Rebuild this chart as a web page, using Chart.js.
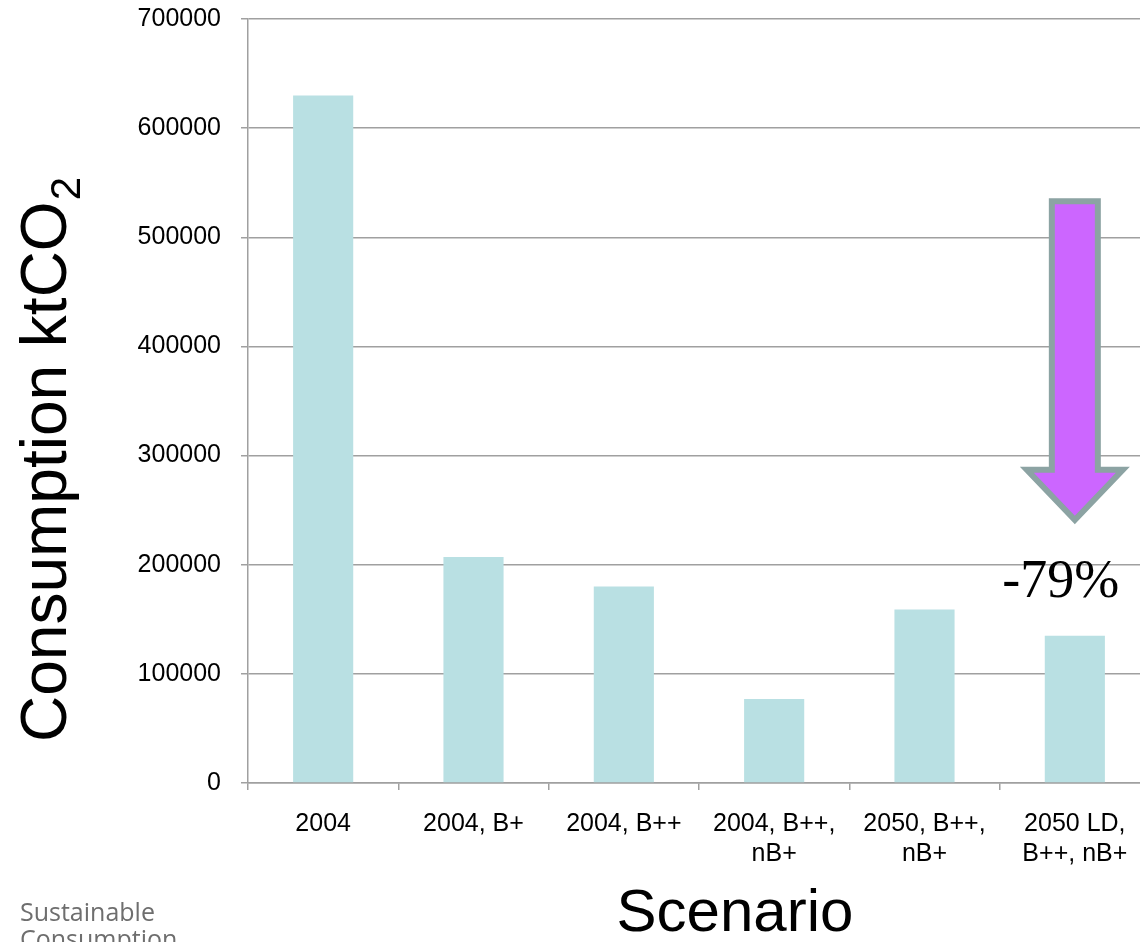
<!DOCTYPE html>
<html>
<head>
  <title>Consumption ktCO2 by scenario</title>
  <script src="https://cdn.jsdelivr.net/npm/chart.js"></script>
  <style>
    html, body { margin: 0; padding: 0; overflow: hidden; background: #fff; }
    #wrap { width: 1152px; height: 942px; position: relative; }
  </style>
</head>
<body>
  <div id="wrap"><canvas id="co2Chart"></canvas></div>
  <script>
    const scenarios = [['2004'], ['2004, B+'], ['2004, B++'], ['2004, B++,', 'nB+'], ['2050, B++,', 'nB+'], ['2050 LD,', 'B++, nB+']];
    const consumption = [630000, 207000, 180000, 77000, 159000, 135000];
    const yTicks = [0, 100000, 200000, 300000, 400000, 500000, 600000, 700000];
    // arrow from ~535k down to ~240k over the last bar
    const arrowFrom = 533000, arrowHead = 287000, arrowTo = 241000;
    const reduction = '-79%';

    const gridGray = '#a0a0a0';

    const extras = {
      id: 'extras',
      afterDraw(chart) {
        const c = chart.ctx, x = chart.scales.x, y = chart.scales.y, area = chart.chartArea;
        c.save();

        // the big arrow
        const cx = x.getPixelForValue(5);
        const top = y.getPixelForValue(arrowFrom), base = y.getPixelForValue(arrowHead), tip = y.getPixelForValue(arrowTo);
        c.beginPath();
        c.moveTo(cx - 23, top);
        c.lineTo(cx + 23, top);
        c.lineTo(cx + 23, base);
        c.lineTo(cx + 48, base);
        c.lineTo(cx, tip);
        c.lineTo(cx - 48, base);
        c.lineTo(cx - 23, base);
        c.closePath();
        c.fillStyle = '#cc66ff';
        c.fill();
        c.lineWidth = 6;
        c.lineJoin = 'miter';
        c.strokeStyle = '#8ca3a3';
        c.stroke();

        c.fillStyle = '#000';
        c.font = '54px "Liberation Serif", "Times New Roman", serif';
        c.textAlign = 'center';
        c.textBaseline = 'alphabetic';
        c.fillText(reduction, cx - 14, y.getPixelForValue(170000));

        // x title
        c.font = '60px "Liberation Sans", Arial, sans-serif';
        c.fillText('Scenario', 735, 931);

        // y title with subscript
        c.translate(66, area.bottom - 41);
        c.rotate(-Math.PI / 2);
        c.textAlign = 'left';
        c.font = '64px "Liberation Sans", Arial, sans-serif';
        const main = 'Consumption ktCO';
        c.fillText(main, 0, 0);
        const w = c.measureText(main).width;
        c.font = '42px "Liberation Sans", Arial, sans-serif';
        c.fillText('2', w + 1, 14);
        c.restore();

        // footer logo text
        c.save();
        c.fillStyle = '#6e6e6e';
        c.font = '25px "Open Sans", "Noto Sans", sans-serif';
        c.textAlign = 'left';
        c.fillText('Sustainable', 20, 921);
        c.fillText('Consumption', 20, 948);
        c.restore();
      }
    };

    new Chart(document.getElementById('co2Chart'), {
      type: 'bar',
      data: {
        labels: scenarios,
        datasets: [{
          data: consumption,
          backgroundColor: '#b9e0e3',
          barPercentage: 0.4,
          categoryPercentage: 1.0
        }]
      },
      options: {
        responsive: true,
        maintainAspectRatio: false,
        animation: false,
        layout: { padding: { top: 19, right: 2, left: 0, bottom: 0 } },
        plugins: { legend: { display: false }, tooltip: { enabled: false } },
        scales: {
          x: {
            afterFit(s) { s.height = 159; s.paddingLeft = 0; s.paddingRight = 0; },
            grid: { drawOnChartArea: false, drawTicks: true, tickLength: 7, color: gridGray, lineWidth: 1.5 },
            border: { color: gridGray, width: 1.5 },
            ticks: {
              color: '#000',
              padding: 19,
              maxRotation: 0,
              autoSkip: false,
              font: { family: '"Liberation Sans", Arial, sans-serif', size: 25, lineHeight: 1.2 }
            }
          },
          y: {
            min: 0,
            max: 700000,
            afterFit(s) { s.width = 248; s.paddingTop = 0; s.paddingBottom = 0; },
            afterBuildTicks(s) { s.ticks = yTicks.map(v => ({ value: v })); },
            grid: { color: gridGray, lineWidth: 1.5, tickLength: 7 },
            border: { color: gridGray, width: 1.5 },
            ticks: {
              color: '#000',
              padding: 20,
              callback: v => String(v),
              font: { family: '"Liberation Sans", Arial, sans-serif', size: 25 }
            }
          }
        }
      },
      plugins: [extras]
    });
  </script>
</body>
</html>
